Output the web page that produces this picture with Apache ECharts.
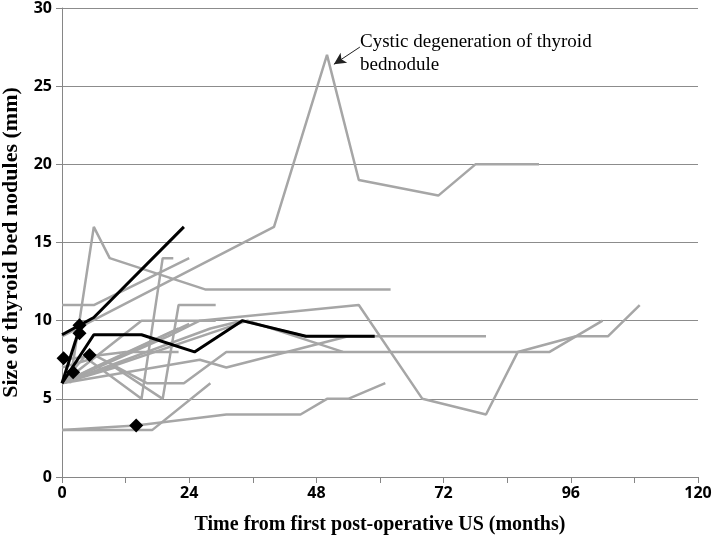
<!DOCTYPE html>
<html><head><meta charset="utf-8">
<script src="https://cdn.jsdelivr.net/npm/echarts@6/dist/echarts.min.js"></script>
<style>html,body{margin:0;padding:0;background:#fff}#c{width:714px;height:543px}</style>
</head><body><div id="c"></div>
<script>
// x tick values (months) and y tick values (mm)
const xTicks = [0, 24, 48, 72, 96, 120];
const yTicks = [0, 5, 10, 15, 20, 25, 30];

// Gray lines: [month, size mm]
const cystic = [[0,9],[40,16],[50,27],[56,19],[71,18],[78,20],[90,20]];
const g2  = [[1.5,6],[6,16],[9,14],[27,12],[62,12]];
const g3  = [[0,11],[6,11],[24,14]];
const g4  = [[0,7],[5,7.5],[15,5],[19,14],[21,14]];
const g5  = [[0,6],[10,7],[19,5],[22,11],[29,11]];
const g6  = [[0,3],[14,3.3],[31,4],[45,4],[50,5],[54,5],[61,6]];
const g7  = [[0,3],[17,3],[28,6]];
const g8  = [[0,6],[26,7.5],[31,7],[54,9],[59,9]];
const g9  = [[0,6],[5,8],[16,6],[23,6],[31,8],[92,8],[102,10]];
const g10 = [[0,6],[20,9],[26,10],[56,11],[68,5],[80,4],[86,8],[97,9],[103,9],[109,11]];
const g11 = [[0,6],[28,9.5],[34,10],[46,9],[80,9]];
const g12 = [[0,6],[35,10],[53,8]];
const g13 = [[0,6],[15,10],[29,10]];
const g14 = [[0,7.5],[12,8],[22,8]];
const g15 = [[0,6],[6,7],[22,9.5]];
const g16 = [[0,6],[24,9.8]];

// Black lines
const b1 = [[0,9.1],[6,10.2],[23,16]];
const b2 = [[0,6],[6,9.1],[15,9.1],[25,8],[34,10],[46,9],[59,9]];
const b3 = [[0,6],[3.3,9.5]];
// Black diamonds
const diamonds = [[0.3,7.6],[3.3,9.7],[3.3,9.2],[5.2,7.8],[2.1,6.7],[14,3.3]];

// Annotation arrow: from text to peak
const arrowFrom = [56.2, 27.5];
const arrowTo = [51.3, 26.4];

const grayLines = [cystic,g2,g3,g4,g5,g6,g7,g8,g9,g10,g11,g12,g13,g14,g15,g16];
const blackLines = [b1,b2,b3];

const series = [];
grayLines.forEach((d,i) => {
  const s = {type:'line', data:d, symbol:'none', silent:true,
    lineStyle:{color:'#a6a6a6', width:2.5}, z:2};
  if (i === 0) {
    s.markLine = {silent:true, symbol:['none','arrow'], symbolSize:[9,12],
      lineStyle:{color:'#222', width:1, type:'solid'}, label:{show:false},
      data:[[{coord:arrowFrom},{coord:arrowTo}]]};
  }
  series.push(s);
});
blackLines.forEach(d => series.push({type:'line', data:d, symbol:'none', silent:true,
  lineStyle:{color:'#000', width:3}, z:3}));
series.push({type:'scatter', data:diamonds, symbol:'diamond', symbolSize:14,
  itemStyle:{color:'#000', opacity:1}, z:4});

const chart = echarts.init(document.getElementById('c'));
chart.setOption({
  animation:false,
  backgroundColor:'#fff',
  grid:{left:62, right:16, top:8, bottom:66, containLabel:false, outerBoundsMode:'none'},
  xAxis:{type:'value', min:0, max:120, interval:12,
    name:'Time from first post-operative US (months)', nameLocation:'middle', nameGap:38,
    nameTextStyle:{fontFamily:'Liberation Serif', fontWeight:'bold', fontSize:20, color:'#000'},
    axisLine:{lineStyle:{color:'#868686', width:1}},
    axisTick:{length:6, lineStyle:{color:'#868686'}},
    axisLabel:{formatter:v => xTicks.includes(v) ? String(v) : '', fontFamily:'Open Sans',
      fontWeight:'bold', fontSize:16, color:'#000', margin:8},
    splitLine:{show:false}},
  yAxis:{type:'value', min:0, max:30, interval:5,
    name:'Size of thyroid bed nodules (mm)', nameLocation:'middle', nameGap:30,
    nameTextStyle:{fontFamily:'Liberation Serif', fontWeight:'bold', fontSize:22, color:'#000'},
    axisLine:{show:true, lineStyle:{color:'#868686', width:1}},
    axisTick:{show:true, length:6, lineStyle:{color:'#868686'}},
    axisLabel:{formatter:v => yTicks.includes(v) ? String(v) : '', fontFamily:'Open Sans',
      fontWeight:'bold', fontSize:16, color:'#000', margin:10},
    splitLine:{show:true, lineStyle:{color:'#8c8c8c', width:1}}},
  graphic:[{type:'text', left:360, top:31, style:{
    text:'Cystic degeneration of thyroid\nbednodule', fontFamily:'Liberation Serif',
    fontSize:19, lineHeight:23, fill:'#000'}}],
  series
});
</script></body></html>
